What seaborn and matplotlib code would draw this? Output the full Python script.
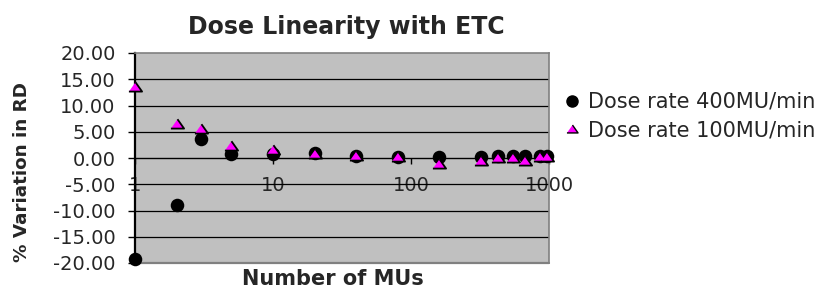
import matplotlib
matplotlib.use("Agg")
import matplotlib.pyplot as plt
from matplotlib.lines import Line2D
from matplotlib.ticker import FixedLocator, FuncFormatter, NullLocator
import seaborn as sns
import pandas as pd

# ---- data ----
mu = [1, 2, 3, 5, 10, 20, 40, 80, 160, 320, 430, 550, 670, 860, 970]
rate400 = [-19.3, -8.9, 3.6, 0.7, 0.7, 1.0, 0.4, 0.1, 0.25, 0.2, 0.4, 0.4, 0.3, 0.3, 0.3]
rate100 = [13.6, 6.5, 5.6, 2.2, 1.5, 0.7, 0.4, 0.1, -1.1, -0.6, 0.0, 0.0, -0.6, 0.1, 0.1]
series_names = ["Dose rate 400MU/min", "Dose rate 100MU/min"]
title = "Dose Linearity with ETC"
xlabel = "Number of MUs"
ylabel = "% Variation in RD"
yticks = [-20, -15, -10, -5, 0, 5, 10, 15, 20]
xticks = [1, 10, 100, 1000]

sns.set_style("white")
plt.rcParams["font.family"] = ["DejaVu Sans"]

fig = plt.figure(figsize=(8.25, 2.89), dpi=100)
ax = fig.add_axes([135 / 825, 1 - 263 / 289, (549 - 135) / 825, (263 - 53) / 289])
ax.set_facecolor("#C0C0C0")

df400 = pd.DataFrame({"mu": mu, "val": rate400})
df100 = pd.DataFrame({"mu": mu, "val": rate100})

tri = [(-1, -0.62), (1, -0.62), (0, 0.8)]

# gridlines (interior only)
for v in yticks[1:-1]:
    if v != 0:
        ax.axhline(v, color="black", lw=0.9, zorder=1)

sns.scatterplot(data=df400, x="mu", y="val", ax=ax, color="black", marker="o",
                s=95, edgecolor="black", linewidth=0, zorder=3, clip_on=False, legend=False)
sns.scatterplot(data=df100, x="mu", y="val", ax=ax, color="#FF00FF", marker=tri,
                s=90, edgecolor="black", linewidth=1.3, zorder=4, clip_on=False, legend=False)

ax.set_xscale("log")
ax.set_xlim(1, 1000)
ax.set_ylim(-20, 20)
ax.set_xlabel("")
ax.set_ylabel("")

ax.xaxis.set_major_locator(FixedLocator(xticks))
ax.xaxis.set_minor_locator(NullLocator())
ax.xaxis.set_major_formatter(FuncFormatter(lambda v, p: f"{v:g}"))
ax.yaxis.set_major_locator(FixedLocator(yticks))
ax.yaxis.set_major_formatter(FuncFormatter(lambda v, p: f"{v:.2f}"))

ax.spines["bottom"].set_position(("data", 0))
ax.spines["bottom"].set_color("black")
ax.spines["bottom"].set_linewidth(1.0)
ax.spines["bottom"].set_zorder(2)
ax.spines["left"].set_color("black")
ax.spines["left"].set_linewidth(1.6)
for s in ["top", "right"]:
    ax.spines[s].set_color("#808080")
    ax.spines[s].set_linewidth(1.2)
ax.axhline(-20, color="#808080", lw=1.6, zorder=2, clip_on=False)

ax.tick_params(axis="y", direction="out", length=5, width=1, color="black",
               labelsize=14, pad=9, left=True)
ax.tick_params(axis="x", direction="out", length=4, width=1, color="black",
               labelsize=14, pad=9, bottom=True)

fig.text(346 / 825, 1 - 27 / 289, title, ha="center", va="center",
         fontsize=17, fontweight="bold")
fig.text(333 / 825, 1 - 285 / 289, xlabel, ha="center", va="baseline",
         fontsize=15, fontweight="bold")
fig.text(22 / 825, 1 - 172 / 289, ylabel, ha="center", va="center",
         rotation=90, fontsize=13.2, fontweight="bold")

handles = [
    Line2D([], [], linestyle="none", marker="o", markersize=8,
           markerfacecolor="black", markeredgecolor="black"),
    Line2D([], [], linestyle="none", marker=tri, markersize=8,
           markerfacecolor="#FF00FF", markeredgecolor="black", markeredgewidth=1),
]
fig.legend(handles, series_names, loc="center left",
           bbox_to_anchor=(564 / 825, 1 - 116 / 289), frameon=False,
           fontsize=15, handlelength=0.8, handletextpad=0.35, labelspacing=0.4,
           borderpad=0, borderaxespad=0)

fig.savefig("out.png", dpi=100)
